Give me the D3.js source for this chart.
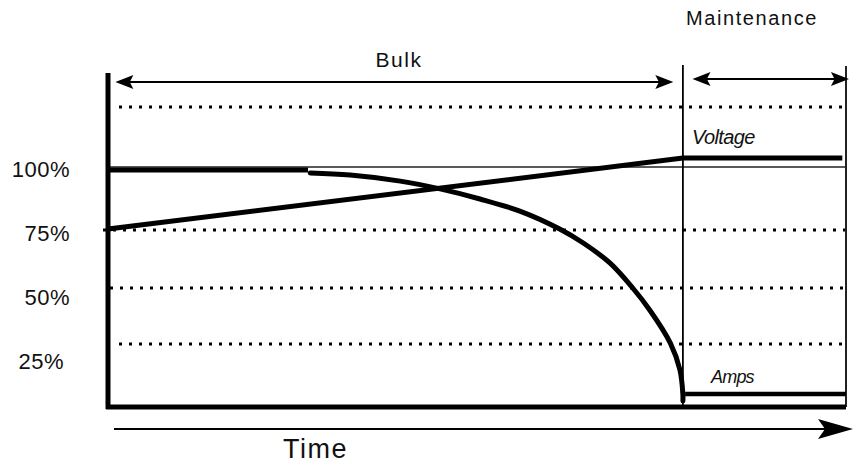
<!DOCTYPE html>
<html>
<head>
<meta charset="utf-8">
<style>
  body { margin: 0; background: #fff; }
  text { font-family: "Liberation Sans", Arial, sans-serif; fill: #111; }
</style>
</head>
<body>
<div id="chart"></div>
<script src="https://cdn.jsdelivr.net/npm/d3@7"></script>
<script>
// time in % of the charge cycle, level in % of nominal
var tickValues = [25, 50, 75, 100];
var tickLabels = ["25%", "50%", "75%", "100%"];
var gridValues = [125, 75, 50, 25];

var ampsFlat = [[0, 98.8], [27.1, 98.8]];
var ampsCurve = [
  [27.4, 97.6], [32.8, 96.8], [39.6, 94.4], [45, 91.3], [50.4, 87.3],
  [55.8, 82.5], [61.2, 75.4], [64.4, 69.4], [68, 60.8], [71.1, 50],
  [73.4, 40.2], [76.2, 25.4], [77.5, 14.7], [77.9, 4.8], [77.9, 2.4]
];
var ampsFloat = [[78.2, 5.2], [100, 5.2]];
var voltage = [[0, 75.4], [77.9, 103.7], [99.5, 103.7]];

var stageEnd = 77.9;          // bulk -> maintenance switch
var stages = [
  { name: "Bulk", from: 1, to: 76.6 },
  { name: "Maintenance", from: 79.2, to: 100.4 }
];

var width = 859, height = 463;

var svg = d3.select("#chart").append("svg")
  .attr("width", width)
  .attr("height", height);

var x = d3.scaleLinear().domain([0, 100]).range([108, 846]);
// hand drawn original: bands are not quite even
var y = d3.scaleLinear()
  .domain([0, 25, 50, 75, 100, 125])
  .range([407, 344, 288, 230, 167, 107]);
// labels sit a bit off their lines in the original drawing
var yLabel = d3.scaleLinear().domain([25, 100]).range([369, 177]);

// dotted grid
svg.selectAll("line.grid")
  .data(gridValues)
  .enter().append("line")
  .attr("class", "grid")
  .attr("x1", function (d) { return d == 75 ? x(0) - 5 : x(0) + (d == 50 ? 2 : 11); })
  .attr("x2", x(100))
  .attr("y1", function (d) { return y(d); })
  .attr("y2", function (d) { return y(d); })
  .attr("stroke", "#000")
  .attr("stroke-width", 3)
  .attr("stroke-dasharray", "3,7");

// thin 100% reference line
svg.append("line")
  .attr("x1", x(0)).attr("x2", x(100))
  .attr("y1", y(100)).attr("y2", y(100))
  .attr("stroke", "#222")
  .attr("stroke-width", 1.5);

// stage separators
svg.append("line")
  .attr("x1", x(stageEnd)).attr("x2", x(stageEnd))
  .attr("y1", 65).attr("y2", y(0))
  .attr("stroke", "#000").attr("stroke-width", 1.8);
svg.append("line")
  .attr("x1", x(100)).attr("x2", x(100))
  .attr("y1", 66).attr("y2", y(0))
  .attr("stroke", "#222").attr("stroke-width", 2);

var line = d3.line()
  .x(function (d) { return x(d[0]); })
  .y(function (d) { return y(d[1]); });

var curve = d3.line()
  .curve(d3.curveCatmullRom.alpha(0.5))
  .x(function (d) { return x(d[0]); })
  .y(function (d) { return y(d[1]); });

svg.append("path").attr("d", line(voltage))
  .attr("fill", "none").attr("stroke", "#000").attr("stroke-width", 5);
svg.append("path").attr("d", line(ampsFlat))
  .attr("fill", "none").attr("stroke", "#000").attr("stroke-width", 5);
svg.append("path").attr("d", curve(ampsCurve))
  .attr("fill", "none").attr("stroke", "#000").attr("stroke-width", 5)
  .attr("stroke-linecap", "round");
svg.append("path").attr("d", line(ampsFloat))
  .attr("fill", "none").attr("stroke", "#000").attr("stroke-width", 4.5);

// axes (thick frame)
svg.append("line")
  .attr("x1", x(0)).attr("x2", x(0))
  .attr("y1", 73).attr("y2", y(0) + 2)
  .attr("stroke", "#000").attr("stroke-width", 5);
svg.append("line")
  .attr("x1", x(0) - 2).attr("x2", x(100))
  .attr("y1", y(0)).attr("y2", y(0))
  .attr("stroke", "#000").attr("stroke-width", 5);

// y labels
svg.selectAll("text.ylab")
  .data(tickValues)
  .enter().append("text")
  .attr("class", "ylab")
  .attr("x", function (d) { return d == 25 ? 64 : 70; })
  .attr("y", function (d) { return yLabel(d); })
  .attr("text-anchor", "end")
  .style("font-size", "22px")
  .style("letter-spacing", "0.5px")
  .text(function (d, i) { return tickLabels[i]; });

// arrowheads
function head(tipX, tipY, dir, len, half) {
  var back = tipX - dir * len, notch = tipX - dir * len * 0.8;
  return "M" + tipX + "," + tipY + "L" + back + "," + (tipY - half) +
    "L" + notch + "," + tipY + "L" + back + "," + (tipY + half) + "Z";
}

var stageY = [82, 79];
stages.forEach(function (s, i) {
  var y0 = stageY[i];
  svg.append("line")
    .attr("x1", x(s.from) + 4).attr("x2", x(s.to) - 4)
    .attr("y1", y0).attr("y2", y0)
    .attr("stroke", "#000").attr("stroke-width", 2);
  svg.append("path").attr("d", head(x(s.from), y0, -1, 18, 7)).attr("fill", "#000");
  svg.append("path").attr("d", head(x(s.to), y0, 1, 18, 7)).attr("fill", "#000");
});

svg.append("text")
  .attr("x", 399).attr("y", 67)
  .attr("text-anchor", "middle")
  .style("font-size", "21px").style("letter-spacing", "1.5px")
  .text(stages[0].name);
svg.append("text")
  .attr("x", 752).attr("y", 25)
  .attr("text-anchor", "middle")
  .style("font-size", "20px").style("letter-spacing", "1.6px")
  .text(stages[1].name);

// series labels
svg.append("text")
  .attr("x", 692).attr("y", 144)
  .style("font-size", "20px").style("font-style", "italic")
  .style("letter-spacing", "-0.6px")
  .text("Voltage");
svg.append("text")
  .attr("x", 711).attr("y", 383)
  .style("font-size", "18px").style("font-style", "italic")
  .style("letter-spacing", "-0.8px")
  .text("Amps");

// time arrow
svg.append("line")
  .attr("x1", 114).attr("x2", 830)
  .attr("y1", 429).attr("y2", 429)
  .attr("stroke", "#000").attr("stroke-width", 2);
svg.append("path").attr("d", head(853, 429, 1, 35, 10)).attr("fill", "#000");
svg.append("text")
  .attr("x", 283).attr("y", 458)
  .style("font-size", "27px").style("letter-spacing", "1.5px")
  .text("Time");
</script>
</body>
</html>
